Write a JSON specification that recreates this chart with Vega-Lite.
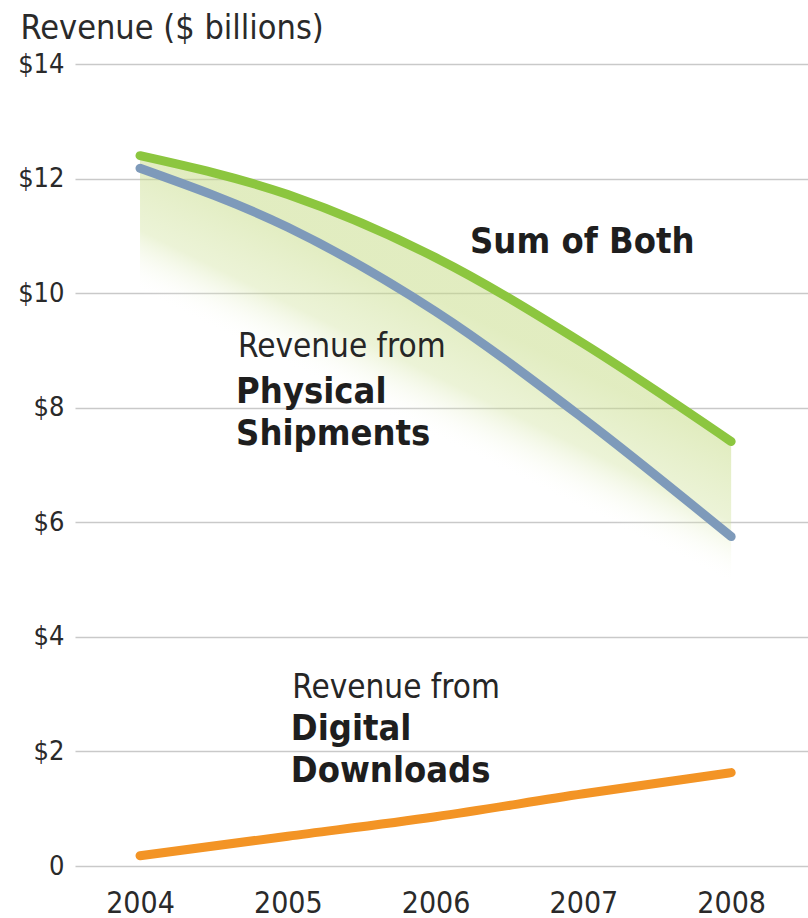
{
  "$schema": "https://vega.github.io/schema/vega-lite/v6.json",
  "autosize": {"type": "none"},
  "width": 733,
  "height": 802,
  "padding": {"left": 75, "top": 64, "right": 0, "bottom": 52},
  "background": "white",
  "config": {
    "view": {"stroke": null},
    "font": "DejaVu Sans Condensed, Liberation Sans Narrow, sans-serif",
    "text": {"font": "DejaVu Sans Condensed, Liberation Sans Narrow, sans-serif", "color": "#232323"}
  },
  "datasets": {
    "revenue": [
      {"year": 2004, "physical": 12.18, "digital": 0.18, "sum": 12.40},
      {"year": 2005, "physical": 11.15, "digital": 0.52, "sum": 11.72},
      {"year": 2006, "physical": 9.68, "digital": 0.86, "sum": 10.62},
      {"year": 2007, "physical": 7.81, "digital": 1.26, "sum": 9.12},
      {"year": 2008, "physical": 5.75, "digital": 1.63, "sum": 7.41}
    ],
    "labels": [
      {"year": 2004.663, "value": 8.885, "text": "Revenue from", "kind": "regular"},
      {"year": 2004.65, "value": 8.08, "text": "Physical", "kind": "bold"},
      {"year": 2004.65, "value": 7.35, "text": "Shipments", "kind": "bold"},
      {"year": 2005.03, "value": 2.93, "text": "Revenue from", "kind": "regular"},
      {"year": 2005.02, "value": 2.2, "text": "Digital", "kind": "bold"},
      {"year": 2005.02, "value": 1.466, "text": "Downloads", "kind": "bold"},
      {"year": 2006.233, "value": 10.7, "text": "Sum of Both", "kind": "bold"}
    ]
  },
  "encoding": {
    "x": {
      "field": "year", "type": "quantitative",
      "scale": {"domain": [2003.56, 2008.52], "nice": false, "zero": false},
      "axis": {
        "values": [2004, 2005, 2006, 2007, 2008], "format": "d",
        "grid": false, "domain": false, "ticks": false,
        "labelFontSize": 30, "labelColor": "#2a2a2a", "labelPadding": 22,
        "labelFont": "DejaVu Sans Condensed, Liberation Sans Narrow, sans-serif",
        "title": null
      }
    }
  },
  "layer": [
    {
      "data": {"name": "revenue"},
      "mark": {
        "type": "area",
        "interpolate": "monotone",
        "color": {
          "gradient": "linear",
          "x1": 0.5, "y1": 0.2015, "x2": 0.431, "y2": 0.37,
          "stops": [
            {"offset": 0, "color": "rgba(196,218,130,0.5)"},
            {"offset": 0.55, "color": "rgba(205,224,150,0.38)"},
            {"offset": 1, "color": "rgba(255,255,255,0)"}
          ]
        }
      },
      "encoding": {
        "y": {
          "field": "sum", "type": "quantitative",
          "scale": {"domain": [0, 14], "nice": false},
          "axis": {
            "values": [0, 2, 4, 6, 8, 10, 12, 14],
            "labelExpr": "datum.value == 0 ? '0' : '$' + datum.value",
            "grid": true, "gridColor": "#c9c9c9", "gridWidth": 1.5,
            "domain": false, "ticks": false,
            "labelFontSize": 27, "labelColor": "#2a2a2a", "labelPadding": 11,
            "labelFont": "DejaVu Sans Condensed, Liberation Sans Narrow, sans-serif",
            "title": "Revenue ($ billions)",
            "titleAngle": 0, "titleAlign": "left", "titleBaseline": "alphabetic",
            "titleX": -55, "titleY": -26,
            "titleFontSize": 34, "titleFontWeight": "normal", "titleColor": "#2a2a2a",
            "titleFont": "DejaVu Sans Condensed, Liberation Sans Narrow, sans-serif"
          }
        },
        "y2": {"datum": 0}
      }
    },
    {
      "data": {"name": "revenue"},
      "mark": {"type": "line", "interpolate": "monotone", "color": "#7e9aba", "strokeWidth": 9, "strokeCap": "round"},
      "encoding": {"y": {"field": "physical", "type": "quantitative"}}
    },
    {
      "data": {"name": "revenue"},
      "mark": {"type": "line", "interpolate": "monotone", "color": "#8cc63f", "strokeWidth": 9, "strokeCap": "round"},
      "encoding": {"y": {"field": "sum", "type": "quantitative"}}
    },
    {
      "data": {"name": "revenue"},
      "mark": {"type": "line", "interpolate": "monotone", "color": "#f39425", "strokeWidth": 9, "strokeCap": "round"},
      "encoding": {"y": {"field": "digital", "type": "quantitative"}}
    },
    {
      "data": {"name": "labels"},
      "transform": [{"filter": "datum.kind == 'regular'"}],
      "mark": {"type": "text", "align": "left", "baseline": "alphabetic", "fontSize": 33, "fontWeight": "normal", "color": "#262626"},
      "encoding": {
        "y": {"field": "value", "type": "quantitative"},
        "text": {"field": "text"}
      }
    },
    {
      "data": {"name": "labels"},
      "transform": [{"filter": "datum.kind == 'bold'"}],
      "mark": {"type": "text", "align": "left", "baseline": "alphabetic", "fontSize": 36, "fontWeight": "bold", "color": "#1e1e1e"},
      "encoding": {
        "y": {"field": "value", "type": "quantitative"},
        "text": {"field": "text"}
      }
    }
  ]
}
